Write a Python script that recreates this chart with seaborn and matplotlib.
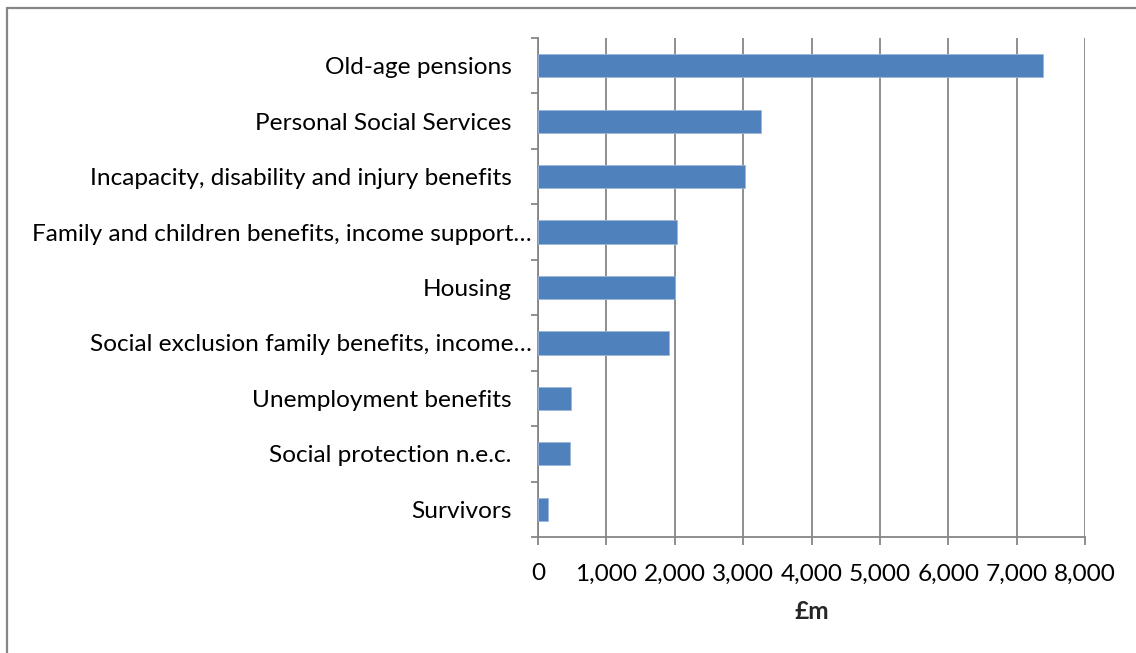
import matplotlib
matplotlib.use("Agg")
import matplotlib.pyplot as plt
from matplotlib.lines import Line2D
from matplotlib.ticker import FuncFormatter, FixedLocator
from matplotlib.transforms import ScaledTranslation
import seaborn as sns
import pandas as pd

categories = [
    "Old-age pensions",
    "Personal Social Services",
    "Incapacity, disability and injury benefits",
    "Family and children benefits, income support\u2026",
    "Housing",
    "Social exclusion family benefits, income\u2026",
    "Unemployment benefits",
    "Social protection n.e.c.",
    "Survivors",
]
spending = [7380, 3260, 3030, 2040, 2005, 1910, 478, 470, 142]
x_ticks = [0, 1000, 2000, 3000, 4000, 5000, 6000, 7000, 8000]

df = pd.DataFrame({"category": categories, "spending": spending})

sns.set_theme(style="white")
plt.rcParams["font.family"] = ["Lato", "DejaVu Sans"]

W, H = 1136, 653
FS = 17.6
fig = plt.figure(figsize=(W / 100, H / 100), dpi=100)
ax = fig.add_axes([538 / W, 1 - 537 / H, (1085 - 538) / W, (537 - 38) / H])

grey = "#868686"
sns.barplot(data=df, x="spending", y="category", orient="h", color="#4F81BD",
            width=0.42, edgecolor="#9DB6D8", linewidth=0.6, saturation=1,
            ax=ax, zorder=3)

ax.set_xlim(0, 8000)
ax.set_ylim(len(categories) - 0.5, -0.5)
ax.xaxis.set_major_locator(FixedLocator(x_ticks))
ax.xaxis.set_major_formatter(FuncFormatter(lambda v, p: f"{int(v):,}"))
ax.grid(axis="x", color=grey, linewidth=1.3, zorder=0)
ax.grid(axis="y", visible=False)

for side in ("top", "right"):
    ax.spines[side].set_visible(False)
for side in ("left", "bottom"):
    ax.spines[side].set_color(grey)
    ax.spines[side].set_linewidth(1.3)

# category-boundary ticks on the y axis, gridline ticks on the x axis
ax.set_yticks(range(len(categories)))
ax.set_yticks([i - 0.5 for i in range(len(categories) + 1)], minor=True)
ax.tick_params(axis="y", which="major", length=0, pad=4.5, labelsize=FS,
               labelcolor="black")
ax.tick_params(axis="y", which="minor", length=5, width=1.3, color=grey,
               direction="out", left=True)
ax.tick_params(axis="x", which="major", length=6, width=1.3, color=grey,
               direction="out", bottom=True, pad=13, labelsize=FS,
               labelcolor="black")

# full-length labels sit further from the axis than the truncated ones
for lab in ax.get_yticklabels():
    if not lab.get_text().endswith("\u2026"):
        lab.set_transform(lab.get_transform() +
                          ScaledTranslation(-20 / 100, 0, fig.dpi_scale_trans))

ax.set_ylabel("")
ax.set_xlabel("£m", fontsize=FS, fontweight="bold", labelpad=11)

# chart-area border along the top and left edges
fig.add_artist(Line2D([7 / W, 7 / W], [0, 1 - 8 / H], transform=fig.transFigure,
                      color=grey, linewidth=1.6))
fig.add_artist(Line2D([7 / W, 1], [1 - 8 / H, 1 - 8 / H], transform=fig.transFigure,
                      color=grey, linewidth=1.6))

fig.savefig("out.png", dpi=100, facecolor="white")
